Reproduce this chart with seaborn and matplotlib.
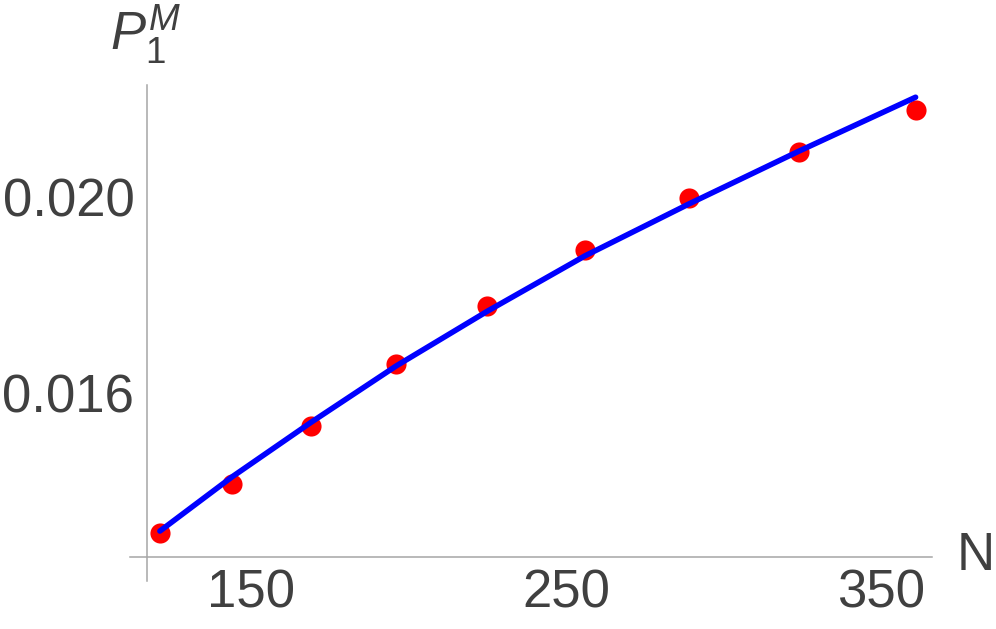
import pandas as pd
import numpy as np
import matplotlib
matplotlib.use("Agg")
import matplotlib.pyplot as plt
import seaborn as sns

# values
n_points = [121, 144, 169, 196, 225, 256, 289, 324, 361]
p_points = [0.01315, 0.01414, 0.01533, 0.01659, 0.01778, 0.01893, 0.01999, 0.02092, 0.02177]

n_fit = [121, 144, 169, 196, 225, 256, 289, 324, 361]
p_fit = [0.01318, 0.01429, 0.01540, 0.01655, 0.01767, 0.01880, 0.01986, 0.02094, 0.02204]

x_ticks = [150, 250, 350]
y_ticks = [0.016, 0.020]

pts = pd.DataFrame({"N": n_points, "P": p_points})
fit = pd.DataFrame({"N": n_fit, "P": p_fit})

sns.set_style("white")
plt.rcParams["font.family"] = ["Liberation Sans", "DejaVu Sans"]
plt.rcParams["mathtext.fontset"] = "custom"
plt.rcParams["mathtext.rm"] = "Liberation Sans"
plt.rcParams["mathtext.it"] = "Liberation Sans:italic"

text_col = "#404040"
axis_col = "#A6A6A6"

fig = plt.figure(figsize=(9.96, 6.29), dpi=100)
ax = fig.add_axes([0.1305, 0.0763, 0.8052, 0.7886])

sns.scatterplot(data=pts, x="N", y="P", ax=ax, color="#FF0000", s=210,
                linewidth=0, zorder=2)
sns.lineplot(data=fit, x="N", y="P", ax=ax, color="#0000FF", linewidth=4,
             zorder=3)

ax.set_xlim(111.5, 366.2)
ax.set_ylim(0.01216, 0.02229)

for s in ["top", "right"]:
    ax.spines[s].set_visible(False)
ax.spines["left"].set_position(("data", 116.9))
ax.spines["bottom"].set_position(("data", 0.01265))
for s in ["left", "bottom"]:
    ax.spines[s].set_color(axis_col)
    ax.spines[s].set_linewidth(1.1)

ax.set_xticks(x_ticks)
ax.set_yticks(y_ticks)
ax.set_yticklabels([f"{v:.3f}" for v in y_ticks])
ax.tick_params(axis="both", direction="in", length=5.5, width=0.8,
               color=axis_col, labelsize=38, labelcolor=text_col)
ax.tick_params(axis="x", pad=8)
ax.tick_params(axis="y", pad=9)
ax.set_xlabel("")
ax.set_ylabel("")

fig.text(957 / 996, 1 - 556 / 629, "N", fontsize=38, color=text_col,
         ha="left", va="center")
fig.text(110 / 996, 1 - 2 / 629, r"$P_1^M$", fontsize=38, color=text_col,
         ha="left", va="top")

fig.savefig("out.png", dpi=100)
